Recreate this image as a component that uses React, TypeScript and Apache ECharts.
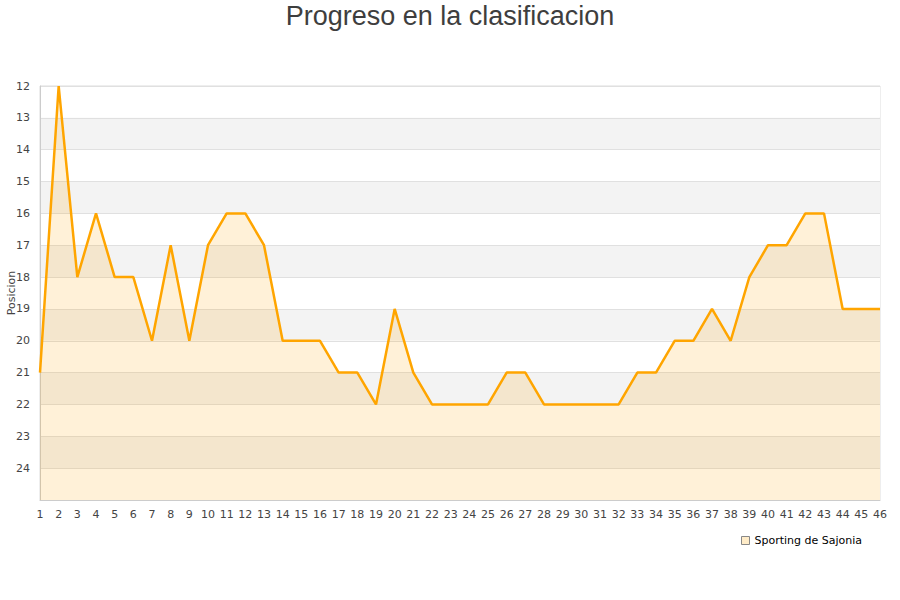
import React, { useEffect, useRef } from "react";
import * as echarts from "echarts";

const jornadas: string[] = Array.from({ length: 46 }, (_, i) => String(i + 1));
const posiciones: number[] = [
  21, 12, 18, 16, 18, 18, 20, 17, 20, 17,
  16, 16, 17, 20, 20, 20, 21, 21, 22, 19,
  21, 22, 22, 22, 22, 21, 21, 22, 22, 22,
  22, 22, 21, 21, 20, 20, 19, 20, 18, 17,
  17, 16, 16, 19, 19, 19,
];
const seriesName = "Sporting de Sajonia";
const titleText = "Progreso en la clasificacion";
const yAxisName = "Posicion";

export default function App() {
  const ref = useRef<HTMLDivElement>(null);
  useEffect(() => {
    if (!ref.current) return;
    const chart = echarts.init(ref.current, undefined, { renderer: "svg" });
    chart.setOption({
      animation: false,
      title: {
        text: titleText,
        left: "center",
        top: -3,
        textStyle: {
          fontFamily: "Liberation Sans",
          fontSize: 27,
          fontWeight: "normal",
          color: "#3e3e3e",
        },
      },
      legend: {
        data: [{ name: seriesName, icon: "rect" }],
        left: 736,
        top: 530,
        itemWidth: 8,
        itemHeight: 8,
        itemGap: 6,
        textStyle: { fontFamily: "DejaVu Sans", fontSize: 11, color: "#000" },
        itemStyle: { color: "#ffecc8", borderColor: "#888", borderWidth: 1 },
      },
      graphic: [
        {
          type: "text",
          x: 11,
          y: 293,
          rotation: Math.PI / 2,
          style: {
            text: yAxisName,
            fontFamily: "DejaVu Sans",
            fontSize: 11,
            fill: "#444",
            align: "center",
            verticalAlign: "middle",
          },
        },
      ],
      grid: {
        left: 40,
        right: 20,
        top: 86,
        bottom: 100,
        containLabel: false,
        outerBoundsMode: "none",
        show: true,
        borderColor: "#dddddd",
        borderWidth: 1,
        backgroundColor: "transparent",
      },
      xAxis: {
        type: "category",
        data: jornadas,
        boundaryGap: false,
        axisLine: { show: true, lineStyle: { color: "#cccccc" } },
        axisTick: { show: false },
        axisLabel: {
          interval: 0,
          fontFamily: "DejaVu Sans",
          fontSize: 11,
          color: "#444",
          margin: 9,
        },
        splitLine: { show: false },
      },
      yAxis: {
        type: "value",
        inverse: true,
        min: 12,
        max: 25,
        interval: 1,
        axisLine: { show: true, lineStyle: { color: "#cccccc" } },
        axisTick: { show: false },
        axisLabel: {
          fontFamily: "DejaVu Sans",
          fontSize: 11,
          color: "#444",
          margin: 10,
          formatter: (v: number) => (v === 25 ? "" : String(v)),
        },
        splitLine: { show: true, lineStyle: { color: "#e0e0e0" } },
        splitArea: { show: true, areaStyle: { color: ["#ffffff", "#f3f3f3"] } },
      },
      series: [
        {
          name: seriesName,
          type: "line",
          data: posiciones,
          symbol: "none",
          lineStyle: { color: "#ffa500", width: 2.5 },
          itemStyle: { color: "#ffa500" },
          areaStyle: { color: "rgba(255,165,0,0.22)", origin: "end" },
        },
      ],
    });
    return () => chart.dispose();
  }, []);
  return (
    <div
      ref={ref}
      style={{ position: "absolute", left: 0, top: 0, width: 900, height: 600 }}
    />
  );
}
